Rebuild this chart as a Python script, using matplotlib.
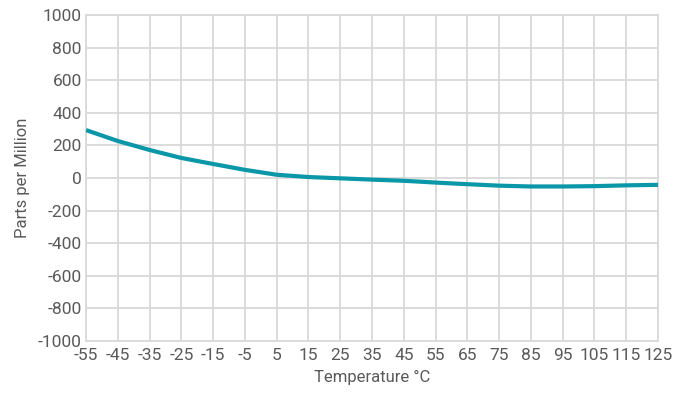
import matplotlib
matplotlib.use('Agg')
import matplotlib.pyplot as plt

# temperature (°C) vs frequency deviation (ppm)
temps = [-55, -45, -35, -25, -15, -5, 5, 15, 25, 35, 45, 55, 65, 75, 85, 95, 105, 115, 125]
ppm = [294, 227, 172, 123, 86, 50, 20, 6, -2, -10, -17, -28, -38, -47, -52, -52, -50, -45, -42]
tick_temps = temps
y_ticks = list(range(-1000, 1001, 200))

LINE_COLOR = "#0a97a8"
GRID_COLOR = "#d9d9d9"
TEXT_COLOR = "#595959"

plt.rcParams['font.family'] = ['Roboto', 'DejaVu Sans']
plt.rcParams['axes.unicode_minus'] = False

fig = plt.figure(figsize=(6.75, 3.96), dpi=100)
ax = fig.add_axes([86 / 675, 1 - 341 / 396, 572 / 675, 326 / 396])

ax.plot(temps, ppm, color=LINE_COLOR, linewidth=3, solid_capstyle='butt', zorder=3)

ax.set_xlim(-55, 125)
ax.set_ylim(-1000, 1000)
ax.set_xticks(tick_temps)
ax.set_yticks(y_ticks)
ax.grid(True, color=GRID_COLOR, linewidth=1.3)
ax.set_axisbelow(True)
for s in ax.spines.values():
    s.set_color(GRID_COLOR)
    s.set_linewidth(1.3)
ax.tick_params(length=0, labelsize=12.5, colors=TEXT_COLOR, pad=3)
ax.tick_params(axis='x', pad=5)
ax.set_xlabel('Temperature °C', fontsize=12, color=TEXT_COLOR, labelpad=5)
ax.set_ylabel('Parts per Million', fontsize=12, color=TEXT_COLOR, labelpad=6)

fig.savefig('out.png', dpi=100)
